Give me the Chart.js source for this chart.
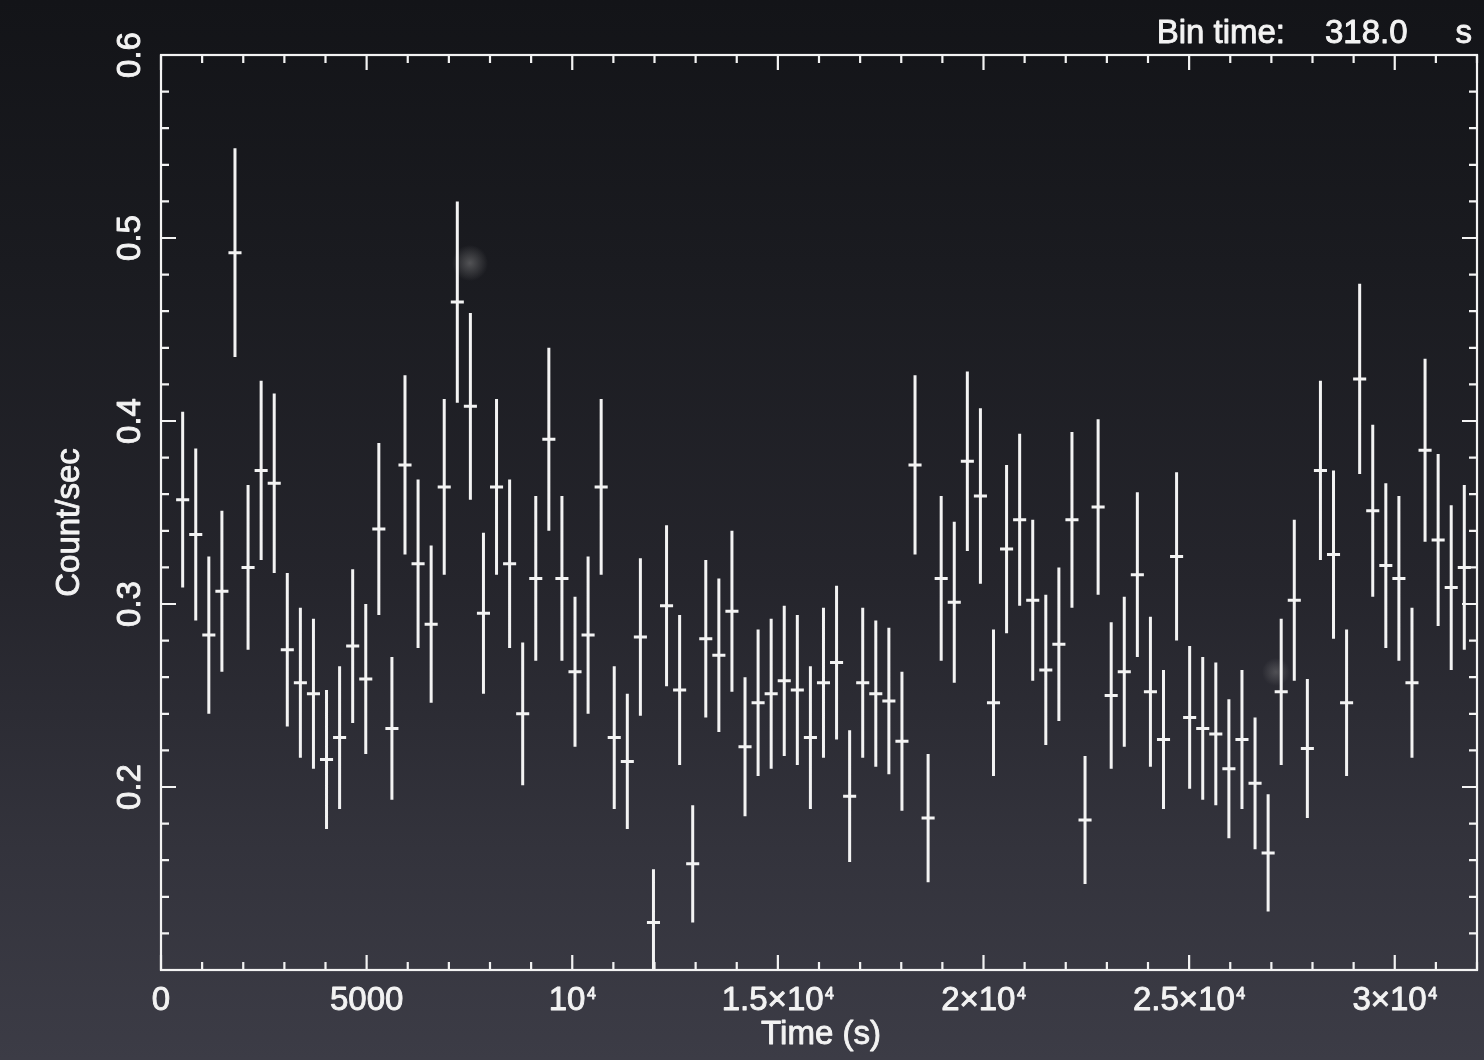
<!DOCTYPE html>
<html>
<head>
<meta charset="utf-8">
<script src="https://cdn.jsdelivr.net/npm/chart.js@4.4.1/dist/chart.umd.min.js"></script>
<style>
  html, body { margin: 0; padding: 0; }
  #wrap {
    width: 1484px; height: 1060px; position: relative;
    background:
      radial-gradient(circle at 470px 263px, rgba(150,150,150,0.45), rgba(150,150,150,0) 18px),
      radial-gradient(circle at 1276px 672px, rgba(150,150,150,0.35), rgba(150,150,150,0) 14px),
      linear-gradient(180deg, #131418 0%, #1a1b20 25%, #25252c 55%, #33333c 80%, #3c3c46 100%);
  }
</style>
</head>
<body>
<div id="wrap"><canvas id="lc"></canvas></div>
<script>
// light curve, bin time 318 s
var timeSec = [527, 845, 1163, 1481, 1799, 2117, 2435, 2753, 3071, 3389,
  3707, 4025, 4343, 4661, 4979, 5297, 5615, 5933, 6251, 6569,
  6887, 7205, 7523, 7841, 8159, 8477, 8795, 9113, 9431, 9749,
  10067, 10385, 10703, 11021, 11339, 11657, 11975, 12293, 12611, 12929,
  13247, 13565, 13883, 14201, 14519, 14837, 15155, 15473, 15791, 16109,
  16427, 16745, 17063, 17381, 17699, 18017, 18335, 18653, 18971, 19289,
  19607, 19925, 20243, 20561, 20879, 21197, 21515, 21833, 22151, 22469,
  22787, 23105, 23423, 23741, 24059, 24377, 24695, 25013, 25331, 25649,
  25967, 26285, 26603, 26921, 27239, 27557, 27875, 28193, 28511, 28829,
  29147, 29465, 29783, 30101, 30419, 30737, 31055, 31373, 31691];

var countRate = [0.357, 0.338, 0.283, 0.307, 0.492, 0.320, 0.373, 0.366, 0.275, 0.257,
  0.251, 0.215, 0.227, 0.277, 0.259, 0.341, 0.232, 0.376, 0.322, 0.289,
  0.364, 0.465, 0.408, 0.295, 0.364, 0.322, 0.240, 0.314, 0.390, 0.314,
  0.263, 0.283, 0.364, 0.227, 0.214, 0.282, 0.126, 0.299, 0.253, 0.158,
  0.281, 0.272, 0.296, 0.222, 0.246, 0.251, 0.258, 0.253, 0.227, 0.257,
  0.268, 0.195, 0.257, 0.251, 0.247, 0.225, 0.376, 0.183, 0.314, 0.301,
  0.378, 0.359, 0.246, 0.330, 0.346, 0.302, 0.264, 0.278, 0.346, 0.182,
  0.353, 0.250, 0.263, 0.316, 0.252, 0.226, 0.326, 0.238, 0.232, 0.229,
  0.210, 0.226, 0.202, 0.164, 0.252, 0.302, 0.221, 0.373, 0.327, 0.246,
  0.423, 0.351, 0.321, 0.314, 0.257, 0.384, 0.335, 0.309, 0.320];

var rateErr = [0.048, 0.047, 0.043, 0.044, 0.057, 0.045, 0.049, 0.049, 0.042, 0.041,
  0.041, 0.038, 0.039, 0.042, 0.041, 0.047, 0.039, 0.049, 0.046, 0.043,
  0.048, 0.055, 0.051, 0.044, 0.048, 0.046, 0.039, 0.045, 0.050, 0.045,
  0.041, 0.043, 0.048, 0.039, 0.037, 0.043, 0.029, 0.044, 0.041, 0.032,
  0.043, 0.042, 0.044, 0.038, 0.040, 0.041, 0.041, 0.041, 0.039, 0.041,
  0.042, 0.036, 0.041, 0.040, 0.040, 0.038, 0.049, 0.035, 0.045, 0.044,
  0.049, 0.048, 0.040, 0.046, 0.047, 0.044, 0.041, 0.042, 0.048, 0.035,
  0.048, 0.040, 0.041, 0.045, 0.041, 0.038, 0.046, 0.039, 0.039, 0.039,
  0.038, 0.038, 0.036, 0.032, 0.040, 0.044, 0.038, 0.049, 0.046, 0.040,
  0.052, 0.047, 0.045, 0.045, 0.041, 0.050, 0.047, 0.045, 0.045];

var binTime = 318;
var xTickValues = [0, 5000, 10000, 15000, 20000, 25000, 30000];
var xTickLabels = ['0', '5000', '10⁴', '1.5×10⁴', '2×10⁴', '2.5×10⁴', '3×10⁴'];
var yTickValues = [0.2, 0.3, 0.4, 0.5, 0.6];

var ink = '#f3f3f3';
var fam = "'Liberation Sans', Arial, Helvetica, sans-serif";

// vertical error bars and horizontal bin-width bars, broken by null points
var vBars = [], hBars = [];
timeSec.forEach(function(t, i) {
  vBars.push({x: t, y: countRate[i] - rateErr[i]}, {x: t, y: countRate[i] + rateErr[i]}, {x: t, y: null});
  hBars.push({x: t - binTime / 2, y: countRate[i]}, {x: t + binTime / 2, y: countRate[i]}, {x: t, y: null});
});

// box with inward ticks on all four sides
var frameTicks = {
  id: 'frameTicks',
  afterDatasetsDraw: function(chart) {
    var ctx = chart.ctx, a = chart.chartArea;
    var xs = chart.scales.x, ys = chart.scales.y;
    ctx.save();
    ctx.strokeStyle = ink;
    ctx.lineWidth = 2.2;
    ctx.strokeRect(a.left, a.top, a.right - a.left, a.bottom - a.top);
    ctx.beginPath();
    for (var s = 0; s <= 32000; s += 1000) {
      var px = xs.getPixelForValue(s);
      var len = (s % 5000 === 0) ? 15 : 8;
      ctx.moveTo(px, a.bottom); ctx.lineTo(px, a.bottom - len);
      ctx.moveTo(px, a.top); ctx.lineTo(px, a.top + len);
    }
    for (var k = 5; k <= 30; k++) {
      var py = ys.getPixelForValue(k * 0.02);
      var ln = (k % 5 === 0) ? 15 : 8;
      ctx.moveTo(a.left, py); ctx.lineTo(a.left + ln, py);
      ctx.moveTo(a.right, py); ctx.lineTo(a.right - ln, py);
    }
    ctx.stroke();
    ctx.restore();
  }
};

// tick labels (with raised exponents), axis titles and the bin-time note
var axisText = {
  id: 'axisText',
  afterDraw: function(chart) {
    var ctx = chart.ctx, a = chart.chartArea;
    var xs = chart.scales.x, ys = chart.scales.y;
    ctx.save();
    ctx.fillStyle = ink;
    ctx.strokeStyle = ink;
    ctx.lineWidth = 0.9;
    ctx.lineJoin = 'round';
    ctx.textBaseline = 'alphabetic';
    function put(txt, x, y, size, align) {
      ctx.font = size + 'px ' + fam;
      ctx.textAlign = align;
      ctx.fillText(txt, x, y);
      ctx.strokeText(txt, x, y);
    }
    function putUp(txt, x, y, size) {
      ctx.save();
      ctx.translate(x, y);
      ctx.rotate(-Math.PI / 2);
      put(txt, 0, 0, size, 'center');
      ctx.restore();
    }

    xTickValues.forEach(function(v, i) {
      var lab = xTickLabels[i], sup = '';
      if (lab.slice(-1) === '⁴') { sup = '4'; lab = lab.slice(0, -1); }
      ctx.font = '33px ' + fam;
      var w1 = ctx.measureText(lab).width;
      ctx.font = '16px ' + fam;
      var w2 = sup ? ctx.measureText(sup).width + 1.5 : 0;
      var x0 = xs.getPixelForValue(v) - (w1 + w2) / 2;
      put(lab, x0, a.bottom + 40, 33, 'left');
      if (sup) put(sup, x0 + w1 + 1.5, a.bottom + 29, 16, 'left');
    });

    yTickValues.forEach(function(v) {
      putUp(v.toFixed(1), a.left - 21, ys.getPixelForValue(v), 33);
    });

    putUp('Count/sec', 79, (a.top + a.bottom) / 2 + 10, 33);
    put('Time (s)', (a.left + a.right) / 2 + 2, a.bottom + 74, 33, 'center');

    put('Bin time:', 1285, 43, 33, 'right');
    put('318.0', 1325, 43, 33, 'left');
    put('s', 1472, 43, 33, 'right');
    ctx.restore();
  }
};

new Chart('lc', {
  type: 'scatter',
  data: {
    datasets: [
      {data: vBars, showLine: true, borderColor: ink, borderWidth: 3, pointRadius: 0, spanGaps: false},
      {data: hBars, showLine: true, borderColor: ink, borderWidth: 3, pointRadius: 0, spanGaps: false}
    ]
  },
  options: {
    responsive: true,
    maintainAspectRatio: false,
    animation: false,
    layout: {padding: {left: 0, right: 7, top: 55, bottom: 0}},
    plugins: {
      legend: {display: false},
      tooltip: {enabled: false},
      title: {display: false}
    },
    scales: {
      x: {
        type: 'linear',
        position: 'bottom',
        min: 0,
        max: 32000,
        afterBuildTicks: function(s) { s.ticks = xTickValues.map(function(v) { return {value: v}; }); },
        afterFit: function(s) { s.height = 90; },
        grid: {display: false, drawTicks: false},
        border: {display: false},
        ticks: {display: false}
      },
      y: {
        type: 'linear',
        min: 0.1,
        max: 0.6,
        afterBuildTicks: function(s) { s.ticks = yTickValues.map(function(v) { return {value: v}; }); },
        afterFit: function(s) { s.width = 161; },
        grid: {display: false, drawTicks: false},
        border: {display: false},
        ticks: {display: false}
      }
    }
  },
  plugins: [frameTicks, axisText]
});
</script>
</body>
</html>
